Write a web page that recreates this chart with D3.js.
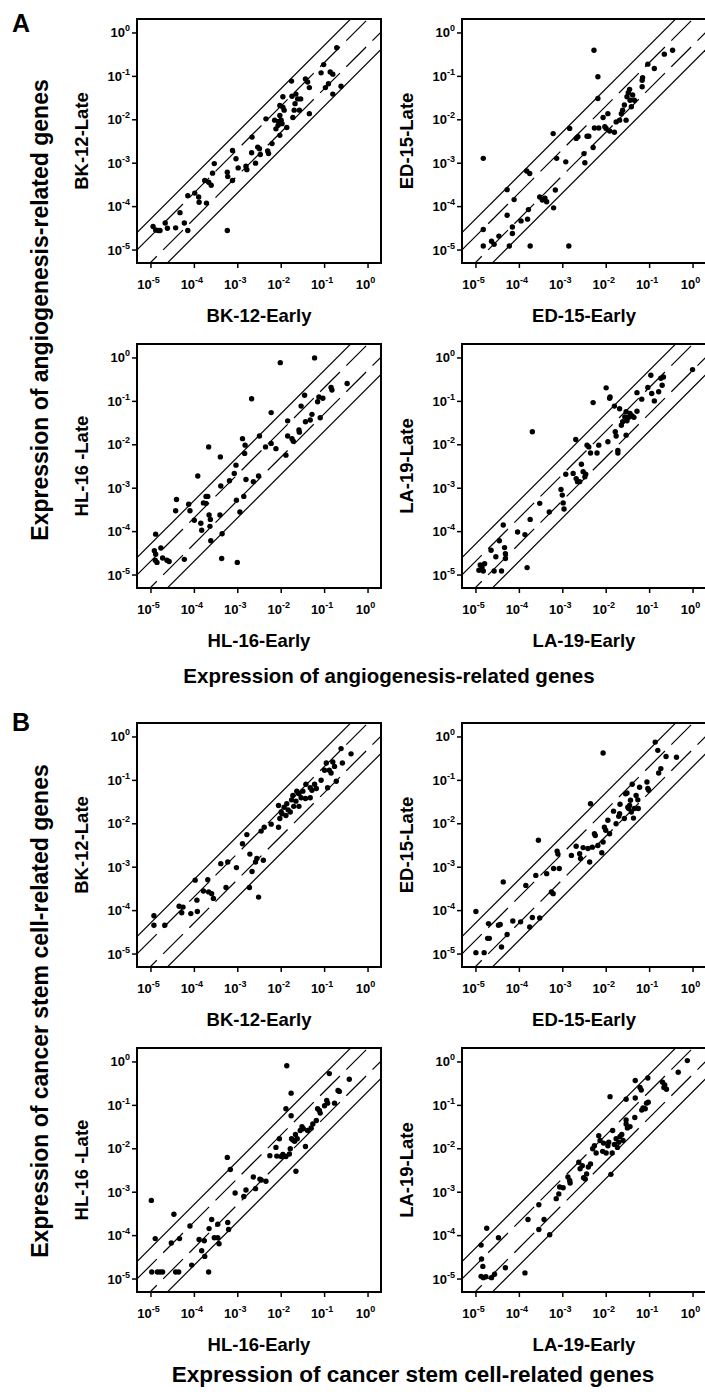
<!DOCTYPE html>
<html>
<head>
<meta charset="utf-8">
<script src="https://cdn.jsdelivr.net/npm/d3@7"></script>
<style>
  body { margin: 0; background: #fff; }
  text { font-family: "Liberation Sans", Arial, sans-serif; font-weight: bold; fill: #000; }
</style>
</head>
<body>
<svg id="chart" width="705" height="1395"></svg>
<script>
// values are log10 of relative expression: [early, late]
const angioBK = [[-4.94,-4.47],[-4.88,-4.55],[-4.82,-4.56],[-4.78,-4.56],[-4.66,-4.39],[-4.61,-4.51],[-4.42,-4.50],[-4.32,-4.15],[-4.22,-4.39],[-4.14,-4.56],[-4.14,-3.76],[-3.98,-3.70],[-3.89,-3.79],[-3.88,-3.91],[-3.71,-3.93],[-3.75,-3.41],[-3.66,-3.45],[-3.60,-3.52],[-3.57,-3.24],[-3.53,-3.02],[-3.23,-3.22],[-3.22,-3.32],[-3.11,-3.41],[-3.11,-2.72],[-3.03,-2.91],[-2.98,-3.12],[-2.80,-3.08],[-2.78,-3.16],[-2.66,-2.41],[-2.67,-2.77],[-2.58,-3.01],[-2.53,-2.64],[-2.49,-2.68],[-2.47,-2.81],[-2.34,-1.99],[-2.30,-2.73],[-2.28,-2.79],[-2.20,-2.56],[-2.11,-2.22],[-2.06,-2.14],[-2.05,-2.05],[-2.02,-2.37],[-2.02,-1.68],[-1.97,-2.10],[-1.95,-1.72],[-1.99,-2.02],[-1.92,-1.79],[-1.86,-2.19],[-1.95,-1.48],[-1.75,-1.12],[-1.74,-1.47],[-1.72,-1.96],[-1.69,-1.79],[-1.67,-1.64],[-1.65,-1.42],[-1.61,-1.53],[-1.57,-1.79],[-1.54,-1.53],[-1.43,-1.07],[-1.38,-1.14],[-1.34,-1.27],[-1.34,-1.87],[-1.07,-0.93],[-1.01,-0.74],[-0.97,-1.27],[-0.90,-1.18],[-0.86,-0.91],[-0.80,-0.96],[-0.80,-1.42],[-0.71,-0.35],[-0.61,-1.24],[-3.23,-4.56],[-2.02,-1.91],[-2.14,-2.02]];
const angioED = [[-4.82,-2.90],[-4.82,-4.54],[-4.82,-4.92],[-4.63,-4.81],[-4.57,-4.88],[-4.46,-4.69],[-4.27,-3.62],[-4.27,-4.21],[-4.22,-4.92],[-4.15,-4.48],[-4.15,-4.63],[-4.11,-3.85],[-3.95,-4.34],[-3.80,-4.30],[-3.78,-4.08],[-3.82,-3.19],[-3.75,-3.25],[-3.74,-4.92],[-3.52,-3.79],[-3.46,-3.86],[-3.40,-3.82],[-3.36,-3.90],[-3.21,-2.33],[-3.20,-4.04],[-3.16,-3.63],[-3.13,-2.90],[-2.92,-2.98],[-2.85,-4.92],[-2.83,-2.21],[-2.68,-2.44],[-2.64,-2.40],[-2.50,-2.79],[-2.48,-3.00],[-2.43,-2.39],[-2.39,-2.39],[-2.29,-2.65],[-2.27,-0.41],[-2.26,-2.20],[-2.18,-1.02],[-2.18,-1.52],[-2.16,-2.20],[-2.06,-1.96],[-2.02,-2.17],[-1.99,-2.21],[-1.95,-1.87],[-1.91,-2.27],[-1.80,-2.30],[-1.76,-2.06],[-1.68,-2.02],[-1.64,-1.87],[-1.61,-1.79],[-1.57,-1.67],[-1.51,-1.48],[-1.48,-1.39],[-1.45,-1.31],[-1.44,-1.56],[-1.41,-1.71],[-1.38,-1.44],[-1.34,-1.56],[-1.53,-2.02],[-1.16,-1.25],[-1.16,-1.10],[-1.15,-1.04],[-1.03,-0.73],[-0.88,-0.83],[-0.65,-0.50],[-0.46,-0.41]];
const angioHL = [[-4.88,-4.07],[-4.91,-4.45],[-4.88,-4.53],[-4.89,-4.67],[-4.85,-4.72],[-4.76,-4.39],[-4.72,-4.62],[-4.62,-4.67],[-4.57,-4.70],[-4.42,-3.53],[-4.40,-3.27],[-4.22,-4.65],[-4.12,-3.38],[-4.09,-3.53],[-3.99,-3.75],[-3.91,-2.73],[-3.84,-3.82],[-3.82,-3.98],[-3.78,-3.35],[-3.72,-3.20],[-3.68,-3.20],[-3.72,-3.36],[-3.66,-2.06],[-3.65,-3.63],[-3.62,-3.73],[-3.63,-3.89],[-3.61,-4.22],[-3.39,-2.29],[-3.38,-2.96],[-3.40,-3.63],[-3.35,-4.06],[-3.36,-4.63],[-3.18,-2.84],[-3.07,-2.67],[-3.03,-2.48],[-3.02,-3.29],[-3.00,-4.72],[-2.94,-3.56],[-2.88,-1.87],[-2.85,-3.20],[-2.83,-2.21],[-2.82,-2.02],[-2.80,-2.81],[-2.67,-0.95],[-2.63,-2.86],[-2.51,-2.73],[-2.49,-1.81],[-2.35,-2.06],[-2.22,-1.27],[-2.22,-1.98],[-2.11,-2.10],[-2.01,-0.12],[-1.88,-2.25],[-1.84,-1.46],[-1.84,-1.81],[-1.74,-1.87],[-1.71,-1.93],[-1.58,-1.67],[-1.57,-1.72],[-1.53,-1.12],[-1.45,-0.87],[-1.43,-1.48],[-1.32,-1.44],[-1.28,-1.31],[-1.22,-0.01],[-1.15,-1.02],[-1.12,-0.91],[-1.09,-1.39],[-1.03,-0.94],[-0.84,-0.69],[-0.82,-0.75],[-0.47,-0.60]];
const angioLA = [[-4.92,-4.90],[-4.89,-4.78],[-4.85,-4.84],[-4.82,-4.92],[-4.79,-4.75],[-4.64,-4.44],[-4.57,-4.92],[-4.53,-4.59],[-4.45,-4.22],[-4.40,-4.92],[-4.36,-3.86],[-4.33,-4.38],[-4.31,-4.52],[-4.31,-4.63],[-4.03,-4.02],[-3.86,-4.08],[-3.81,-4.84],[-3.74,-3.73],[-3.69,-1.71],[-3.52,-3.36],[-3.30,-3.56],[-3.03,-3.04],[-3.00,-3.17],[-2.98,-3.35],[-2.96,-3.49],[-2.92,-2.69],[-2.75,-2.67],[-2.69,-1.89],[-2.68,-2.79],[-2.65,-2.86],[-2.60,-2.86],[-2.56,-2.46],[-2.52,-2.63],[-2.48,-2.75],[-2.46,-2.69],[-2.43,-2.02],[-2.39,-2.06],[-2.35,-2.20],[-2.29,-1.04],[-2.20,-2.20],[-2.16,-2.02],[-1.99,-0.70],[-1.91,-0.94],[-1.90,-0.91],[-1.95,-1.94],[-1.80,-1.12],[-1.78,-1.71],[-1.76,-1.81],[-1.72,-2.14],[-1.72,-2.20],[-1.68,-1.18],[-1.64,-1.56],[-1.61,-1.48],[-1.56,-1.37],[-1.53,-1.25],[-1.51,-1.46],[-1.47,-1.38],[-1.44,-1.29],[-1.39,-1.35],[-1.35,-1.38],[-1.53,-1.79],[-1.28,-1.24],[-1.28,-0.81],[-1.17,-0.96],[-1.03,-0.69],[-0.96,-0.41],[-0.94,-0.83],[-0.88,-1.00],[-0.78,-0.79],[-0.73,-0.48],[-0.70,-0.64],[-0.67,-0.45],[0.00,-0.28]];
const cscBK = [[-4.92,-4.13],[-4.92,-4.35],[-4.67,-4.35],[-4.34,-3.91],[-4.28,-4.06],[-4.25,-3.93],[-4.07,-4.08],[-3.97,-3.31],[-3.93,-3.77],[-3.92,-4.03],[-3.78,-3.56],[-3.68,-3.30],[-3.66,-3.58],[-3.59,-3.62],[-3.55,-3.73],[-3.38,-2.93],[-3.26,-3.48],[-3.22,-2.89],[-3.02,-3.02],[-2.88,-2.47],[-2.78,-2.26],[-2.71,-2.71],[-2.66,-3.11],[-2.58,-2.89],[-2.55,-2.81],[-2.72,-3.48],[-2.51,-3.70],[-2.40,-2.85],[-2.45,-2.18],[-2.38,-2.09],[-2.22,-2.02],[-2.05,-2.09],[-2.02,-1.89],[-2.05,-1.59],[-1.99,-1.74],[-1.97,-1.78],[-1.92,-1.63],[-1.86,-1.55],[-1.88,-1.82],[-1.83,-1.69],[-1.78,-1.74],[-1.75,-1.46],[-1.72,-1.36],[-1.70,-1.61],[-1.65,-1.49],[-1.63,-1.26],[-1.58,-1.32],[-1.58,-1.61],[-1.53,-1.41],[-1.49,-1.26],[-1.43,-1.43],[-1.42,-1.10],[-1.32,-1.18],[-1.32,-1.41],[-1.28,-1.24],[-1.22,-1.10],[-1.18,-1.20],[-1.07,-1.01],[-0.99,-0.78],[-0.95,-0.61],[-0.92,-1.18],[-0.88,-0.78],[-0.84,-0.84],[-0.80,-0.59],[-0.76,-0.69],[-0.72,-1.03],[-0.61,-0.28],[-0.58,-0.61],[-0.38,-0.40]];
const cscED = [[-4.99,-4.03],[-4.99,-4.98],[-4.80,-4.98],[-4.72,-4.65],[-4.68,-4.65],[-4.70,-4.31],[-4.47,-4.35],[-4.43,-4.33],[-4.40,-4.85],[-4.36,-3.35],[-4.27,-4.56],[-4.14,-4.25],[-3.96,-4.27],[-3.84,-3.43],[-3.75,-4.39],[-3.69,-4.17],[-3.61,-3.20],[-3.55,-2.39],[-3.52,-4.18],[-3.36,-3.16],[-3.25,-3.58],[-3.21,-3.62],[-3.20,-3.04],[-3.12,-2.64],[-3.10,-2.71],[-3.07,-3.04],[-2.79,-2.74],[-2.68,-2.53],[-2.60,-2.70],[-2.58,-2.81],[-2.52,-2.56],[-2.41,-2.58],[-2.37,-2.89],[-2.35,-1.55],[-2.31,-2.55],[-2.26,-2.24],[-2.24,-2.28],[-2.18,-2.51],[-2.09,-2.68],[-2.06,-0.38],[-2.06,-2.43],[-2.03,-2.09],[-2.00,-2.16],[-1.95,-1.93],[-1.91,-2.24],[-1.82,-1.72],[-1.76,-2.01],[-1.70,-1.84],[-1.68,-1.78],[-1.67,-1.56],[-1.57,-1.89],[-1.54,-1.32],[-1.51,-1.30],[-1.49,-1.63],[-1.47,-1.66],[-1.45,-1.59],[-1.43,-1.47],[-1.41,-1.74],[-1.39,-1.10],[-1.36,-1.88],[-1.34,-1.66],[-1.30,-1.36],[-1.26,-1.46],[-1.25,-1.66],[-1.22,-1.17],[-1.05,-1.05],[-1.03,-1.20],[-1.01,-1.24],[-0.86,-0.13],[-0.80,-0.32],[-0.78,-0.84],[-0.73,-0.74],[-0.61,-0.46],[-0.37,-0.48]];
const cscHL = [[-4.98,-3.20],[-4.89,-4.08],[-4.97,-4.85],[-4.84,-4.85],[-4.78,-4.85],[-4.72,-4.85],[-4.52,-4.18],[-4.46,-3.52],[-4.42,-4.85],[-4.35,-4.85],[-4.33,-4.08],[-4.09,-3.79],[-4.05,-4.69],[-3.88,-4.10],[-3.76,-4.13],[-3.82,-4.36],[-3.75,-4.49],[-3.66,-4.85],[-3.65,-3.85],[-3.59,-3.64],[-3.53,-4.06],[-3.45,-4.06],[-3.45,-3.75],[-3.42,-4.20],[-3.23,-2.21],[-3.22,-3.71],[-3.20,-3.87],[-3.16,-2.49],[-3.05,-3.03],[-2.85,-3.11],[-2.80,-2.96],[-2.63,-2.66],[-2.58,-2.93],[-2.48,-2.71],[-2.45,-2.73],[-2.34,-2.76],[-2.25,-2.17],[-2.11,-1.98],[-2.09,-2.18],[-2.03,-1.78],[-1.99,-2.19],[-1.95,-2.14],[-1.88,-2.19],[-1.86,-0.10],[-1.88,-1.09],[-1.80,-2.13],[-1.78,-2.01],[-1.76,-0.73],[-1.76,-1.25],[-1.75,-1.78],[-1.72,-1.81],[-1.68,-1.84],[-1.66,-1.68],[-1.65,-2.53],[-1.62,-1.78],[-1.55,-1.59],[-1.51,-1.50],[-1.48,-1.55],[-1.43,-1.96],[-1.38,-1.59],[-1.30,-1.53],[-1.26,-1.44],[-1.18,-1.36],[-1.15,-1.09],[-1.11,-1.13],[-1.09,-1.19],[-0.99,-1.02],[-0.94,-0.90],[-0.92,-0.96],[-0.88,-0.28],[-0.76,-0.96],[-0.68,-0.67],[-0.65,-0.69],[-0.42,-0.41]];
const cscLA = [[-4.87,-4.23],[-4.86,-4.55],[-4.83,-4.72],[-4.87,-4.95],[-4.82,-4.98],[-4.76,-4.96],[-4.63,-4.98],[-4.56,-4.90],[-4.74,-3.84],[-4.47,-4.06],[-4.31,-4.75],[-3.86,-4.87],[-3.79,-3.64],[-3.54,-3.87],[-3.54,-3.30],[-3.42,-3.64],[-3.29,-3.99],[-3.14,-3.16],[-3.08,-3.05],[-3.06,-2.89],[-2.98,-2.91],[-2.87,-2.66],[-2.83,-2.74],[-2.82,-2.80],[-2.62,-2.32],[-2.59,-2.47],[-2.54,-2.40],[-2.51,-2.68],[-2.47,-2.71],[-2.44,-2.59],[-2.40,-2.43],[-2.35,-2.36],[-2.30,-2.01],[-2.26,-1.94],[-2.22,-2.11],[-2.16,-1.71],[-2.13,-1.82],[-2.07,-2.07],[-2.05,-1.88],[-1.99,-2.11],[-1.95,-1.94],[-1.93,-1.86],[-1.90,-0.81],[-1.88,-2.60],[-1.85,-2.11],[-1.84,-1.59],[-1.80,-1.91],[-1.76,-1.78],[-1.73,-1.98],[-1.70,-1.86],[-1.67,-1.73],[-1.63,-1.68],[-1.60,-1.82],[-1.53,-1.44],[-1.50,-1.53],[-1.53,-1.35],[-1.44,-1.50],[-1.53,-0.87],[-1.33,-1.29],[-1.32,-0.44],[-1.32,-0.84],[-1.18,-0.66],[-1.21,-0.60],[-1.17,-1.12],[-1.14,-1.07],[-1.09,-1.09],[-1.06,-0.96],[-1.02,-0.94],[-1.03,-0.38],[-0.69,-0.48],[-0.66,-0.60],[-0.60,-0.64],[-0.64,-0.54],[-0.33,-0.25],[-0.12,0.02]];

const tickExponents = [-5, -4, -3, -2, -1, 0];
const foldLines = [5, 2, 0.5, 0.2];   // late = fold * early
const earlyNames = ["BK-12-Early", "ED-15-Early", "HL-16-Early", "LA-19-Early"];
const lateNames = ["BK-12-Late", "ED-15-Late", "HL-16 -Late", "LA-19-Late"];

const svg = d3.select("#chart");
svg.append("rect").attr("width", 705).attr("height", 1395).attr("fill", "#fff");

const size = 244;
const lo = Math.pow(10, -5.31), hi = Math.pow(10, 0.31);
const x = d3.scaleLog().domain([lo, hi]).range([0, size]);
const y = d3.scaleLog().domain([lo, hi]).range([size, 0]);

const defs = svg.append("defs");
defs.append("clipPath").attr("id", "plotClip")
  .append("rect").attr("width", size).attr("height", size);

function addPower(sel, e) {
  sel.append("tspan").text("10");
  sel.append("tspan").attr("dy", -6).style("font-size", "9px").text(e === 0 ? "0" : "-" + Math.abs(e));
}

function drawPanel(left, top, data, xName, yName) {
  const g = svg.append("g").attr("transform", `translate(${left},${top})`);

  // fold-change reference lines
  const lines = g.append("g").attr("clip-path", "url(#plotClip)");
  foldLines.forEach(k => {
    lines.append("line")
      .attr("x1", x(lo)).attr("y1", y(lo * k))
      .attr("x2", x(hi)).attr("y2", y(hi * k))
      .attr("stroke", "#000")
      .attr("stroke-width", 1.2)
      .attr("stroke-dasharray", (k === 2 || k === 0.5) ? "28,9" : null);
  });

  // points
  g.selectAll("circle")
    .data(data)
    .enter()
    .append("circle")
    .attr("cx", d => x(Math.pow(10, d[0])))
    .attr("cy", d => y(Math.pow(10, d[1])))
    .attr("r", 2.7)
    .attr("fill", "#000");

  // axes (tick marks only)
  const ticks = tickExponents.map(e => Math.pow(10, e));
  g.append("g")
    .attr("transform", `translate(0,${size})`)
    .call(d3.axisBottom(x).tickValues(ticks).tickSize(5).tickSizeOuter(0).tickFormat(""))
    .call(a => a.select(".domain").remove())
    .selectAll("line").attr("stroke-width", 1.5);
  g.append("g")
    .call(d3.axisLeft(y).tickValues(ticks).tickSize(5).tickSizeOuter(0).tickFormat(""))
    .call(a => a.select(".domain").remove())
    .selectAll("line").attr("stroke-width", 1.5);

  g.selectAll("text.xtick")
    .data(tickExponents)
    .enter()
    .append("text")
    .attr("class", "xtick")
    .attr("x", e => x(Math.pow(10, e)) - 2)
    .attr("y", size + 26)
    .attr("text-anchor", "middle")
    .style("font-size", "13px")
    .each(function(e) { addPower(d3.select(this), e); });

  g.selectAll("text.ytick")
    .data(tickExponents)
    .enter()
    .append("text")
    .attr("class", "ytick")
    .attr("x", -7)
    .attr("y", e => y(Math.pow(10, e)) + 5)
    .attr("text-anchor", "end")
    .style("font-size", "13px")
    .each(function(e) { addPower(d3.select(this), e); });

  // frame
  g.append("rect")
    .attr("width", size).attr("height", size)
    .attr("fill", "none").attr("stroke", "#000").attr("stroke-width", 2);

  g.append("text")
    .attr("x", size / 2)
    .attr("y", size + 59)
    .attr("text-anchor", "middle")
    .style("font-size", "18.5px")
    .text(xName);

  g.append("text")
    .attr("transform", `translate(-49,${size / 2}) rotate(-90)`)
    .attr("text-anchor", "middle")
    .style("font-size", "18.5px")
    .text(yName);
}

const colLeft = [137, 462];
const groups = [
  { label: "A", labelY: 32, tops: [19, 344], sets: [angioBK, angioED, angioHL, angioLA],
    title: "Expression of angiogenesis-related genes", titleY: 683, titleX: 389, titleSize: 20.5, vY: 310 },
  { label: "B", labelY: 731, tops: [723, 1048], sets: [cscBK, cscED, cscHL, cscLA],
    title: "Expression of cancer stem cell-related genes", titleY: 1382, titleX: 413, titleSize: 22.5, vY: 1011 }
];

groups.forEach(gr => {
  gr.sets.forEach((data, i) => {
    drawPanel(colLeft[i % 2], gr.tops[Math.floor(i / 2)], data, earlyNames[i], lateNames[i]);
  });
  svg.append("text")
    .attr("x", 12).attr("y", gr.labelY)
    .style("font-size", "25px")
    .text(gr.label);
  svg.append("text")
    .attr("x", gr.titleX).attr("y", gr.titleY)
    .attr("text-anchor", "middle")
    .style("font-size", gr.titleSize + "px")
    .text(gr.title);
  svg.append("text")
    .attr("transform", `translate(48,${gr.vY}) rotate(-90)`)
    .attr("text-anchor", "middle")
    .style("font-size", "23px")
    .text(gr.title);
});
</script>
</body>
</html>
